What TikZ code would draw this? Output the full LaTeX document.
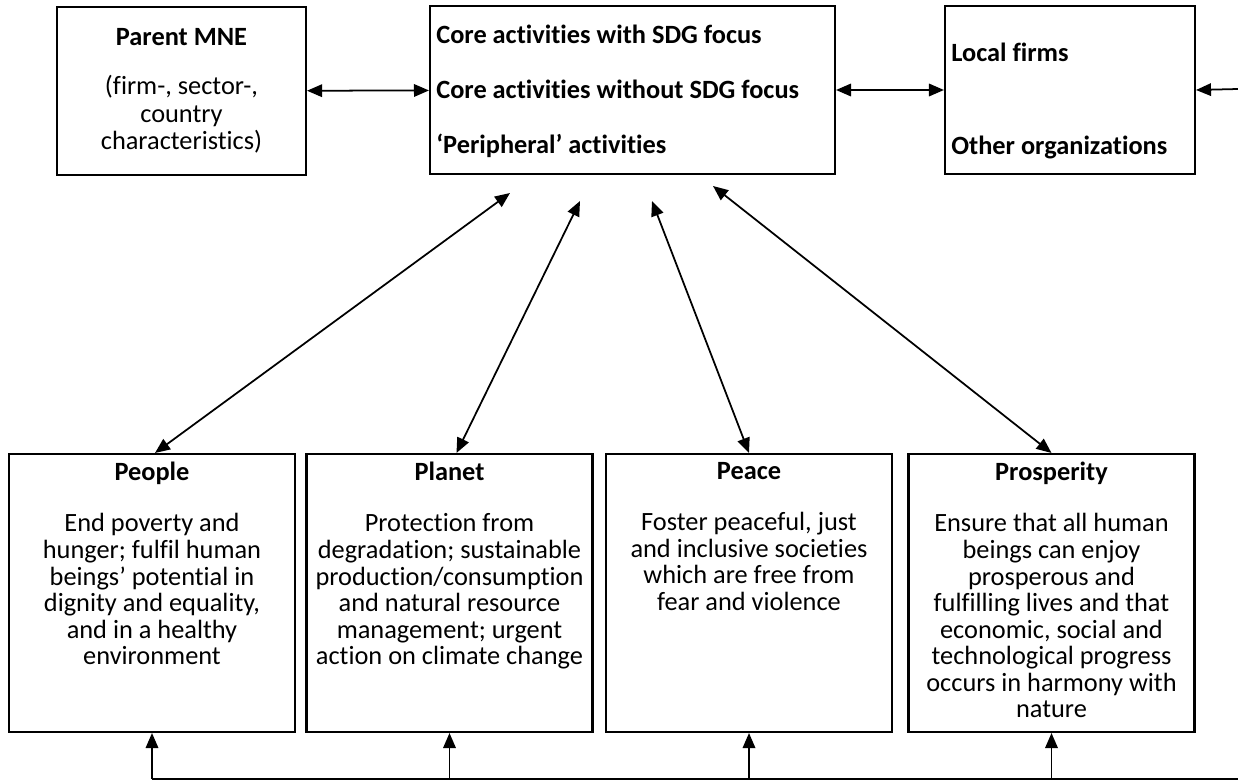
\documentclass[tikz,border=0pt]{standalone}
\usepackage{fontspec}
\setmainfont{Carlito}[Ligatures=NoCommon]
\usetikzlibrary{arrows.meta}

\newcommand{\boxfont}{\fontsize{15}{15.1}\selectfont}

\begin{document}
\begin{tikzpicture}[x=0.02cm, y=-0.02cm,
  box/.style={draw, line width=1.2pt, minimum height=3.36cm, inner sep=0pt, font=\boxfont},
  goal/.style={draw, line width=1.2pt, minimum width=5.72cm, minimum height=5.56cm, inner sep=0pt},
  goaltext/.style={anchor=north, align=center, inner sep=0pt, font=\boxfont},
  orgtext/.style={anchor=west, inner sep=0pt, font=\boxfont\bfseries},
  link/.style={line width=1pt, {Triangle[length=0.3cm,width=0.25cm]}-{Triangle[length=0.3cm,width=0.25cm]}},
  feed/.style={line width=1pt, -{Triangle[length=0.3cm,width=0.25cm]}}]

 \useasboundingbox (0,0) rectangle (1238,781);

 %%%%%%%%%% Top row %%%%%%%%%%
 \node[box, minimum width=4.98cm, align=center, font=\fontsize{15}{15.8}\selectfont] (parent) at (181.5,91)
   {\textbf{Parent MNE}\\[12pt](firm-, sector-,\\country\\characteristics)};
 \node[box, minimum width=8.1cm] (core) at (632.5,90) {};
 \node[orgtext] (with-sdg) at (436,34) {Core activities with SDG focus};
 \node[orgtext] (without-sdg) at (436,89) {Core activities without SDG focus};
 \node[orgtext] (peripheral) at (436,146) {‘Peripheral’ activities};

 \node[box, minimum width=5cm] (local) at (1070,90) {};
 \node[orgtext] (firms) at (951,52) {Local firms};
 \node[orgtext] (others) at (951,147) {Other organizations};

 \coordinate (outside) at (1238,89);

 \draw[link] (parent) -- (core) ;
 \draw[link] (core) -- (local) ;
 \draw[feed] (outside) -- (local.east) ;

 %%%%%%%%%% The four P's %%%%%%%%%%
 \node[goal] (people) at (152,593) {};
 \node[goal] (planet) at (449.5,593) {};
 \node[goal] (peace) at (749,593) {};
 \node[goal] (prosperity) at (1051.5,593) {};

 \node[goaltext] (people-txt) at ([yshift=-0.18cm]people.north)
   {\textbf{People}\\[14pt]End poverty and\\hunger; fulfil human\\beings’ potential in\\dignity and equality,\\and in a healthy\\environment};
 \node[goaltext] (planet-txt) at ([yshift=-0.18cm]planet.north)
   {\textbf{Planet}\\[14pt]Protection from\\degradation; sustainable\\production/consumption\\and natural resource\\management; urgent\\action on climate change};
 \node[goaltext] (peace-txt) at ([yshift=-0.18cm]peace.north)
   {\textbf{Peace}\\[14pt]Foster peaceful, just\\and inclusive societies\\which are free from\\fear and violence};
 \node[goaltext] (prosperity-txt) at ([yshift=-0.18cm]prosperity.north)
   {\textbf{Prosperity}\\[14pt]Ensure that all human\\beings can enjoy\\prosperous and\\fulfilling lives and that\\economic, social and\\technological progress\\occurs in harmony with\\nature};

 %%%%%%%%%% Links to the activities %%%%%%%%%%
 \coordinate (to-people) at (510,193);
 \coordinate (to-planet) at (580,201);
 \coordinate (to-peace) at (652,201);
 \coordinate (to-prosperity) at (713,186);

 \draw[link] (to-people) -- ([xshift=0.06cm]people.north) ;
 \draw[link] (to-planet) -- ([xshift=0.14cm]planet.north) ;
 \draw[link] (to-peace) -- (peace.north) ;
 \draw[link] (to-prosperity) -- (prosperity.north) ;

 %%%%%%%%%% Feedback line %%%%%%%%%%
 \coordinate (bus) at (1238,779);
 \draw[line width=1pt] (bus) -- (people.south |- bus) ;
 \foreach \g in {people,planet,peace,prosperity}
 {
   \draw[feed] (\g.south |- bus) -- (\g.south) ;
 }

\end{tikzpicture}
\end{document}
